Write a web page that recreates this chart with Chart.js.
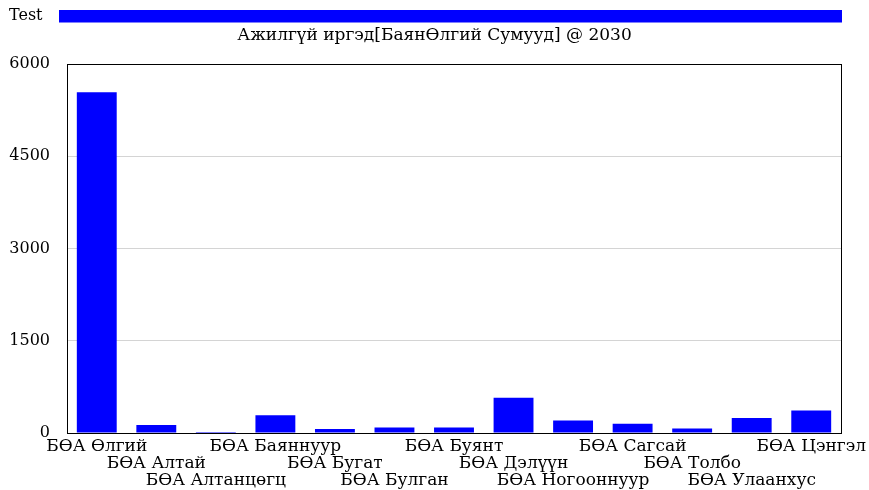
<!DOCTYPE html>
<html>
<head>
<meta charset="utf-8">
<script src="https://cdn.jsdelivr.net/npm/chart.js@4/dist/chart.umd.min.js"></script>
<style>
  html, body { margin: 0; padding: 0; background: #ffffff; }
  #wrap { width: 869px; height: 490px; position: relative; }
</style>
</head>
<body>
<div id="wrap"><canvas id="c" width="869" height="490"></canvas></div>
<script>
// Unemployed citizens by sum (Bayan-Ölgii aimag), year 2030
const seriesName = 'Test';
const chartTitle = 'Ажилгүй иргэд[БаянӨлгий Сумууд] @ 2030';
const categories = [
  'БӨА Өлгий', 'БӨА Алтай', 'БӨА Алтанцөгц', 'БӨА Баяннуур', 'БӨА Бугат',
  'БӨА Булган', 'БӨА Буянт', 'БӨА Дэлүүн', 'БӨА Ногооннуур', 'БӨА Сагсай',
  'БӨА Толбо', 'БӨА Улаанхус', 'БӨА Цэнгэл'
];
const unemployed = [5540, 130, 15, 290, 65, 90, 90, 575, 205, 150, 75, 245, 365];
const yTicks = [0, 1500, 3000, 4500, 6000];

const FONT = 'DejaVu Serif';
const BLUE = '#0000ff';

// Series key: name on the left, long colour strip to the right edge of the plot
const seriesKey = {
  id: 'seriesKey',
  afterDraw(chart) {
    const ctx = chart.ctx;
    const ds = chart.data.datasets[0];
    ctx.save();
    ctx.font = '16px "' + FONT + '"';
    ctx.fillStyle = '#000000';
    ctx.textBaseline = 'middle';
    ctx.textAlign = 'left';
    ctx.fillText(ds.label, 9, 16);
    ctx.fillStyle = ds.backgroundColor;
    ctx.fillRect(59, 10, chart.chartArea.right + 1 - 59, 12.5);
    ctx.restore();
  }
};

// Black frame around the plotting area
const plotFrame = {
  id: 'plotFrame',
  afterDatasetsDraw(chart) {
    const a = chart.chartArea;
    const ctx = chart.ctx;
    ctx.save();
    ctx.strokeStyle = '#000000';
    ctx.lineWidth = 1;
    ctx.strokeRect(Math.round(a.left) + 0.5, Math.round(a.top) + 0.5,
                   Math.round(a.right - a.left), Math.round(a.bottom - a.top));
    ctx.restore();
  }
};

new Chart(document.getElementById('c'), {
  type: 'bar',
  data: {
    labels: categories,
    datasets: [{
      label: seriesName,
      data: unemployed,
      backgroundColor: BLUE,
      borderWidth: 0,
      barPercentage: 0.67,
      categoryPercentage: 1.0
    }]
  },
  options: {
    responsive: false,
    animation: false,
    devicePixelRatio: 1,
    layout: { padding: { top: 25, right: 0, left: 0, bottom: 0 } },
    plugins: {
      legend: { display: false },
      tooltip: { enabled: false },
      title: {
        display: true,
        text: chartTitle,
        color: '#000000',
        font: { family: FONT, size: 17, weight: 'normal', lineHeight: 1.2 },
        padding: { top: 0, bottom: 18.6 }
      }
    },
    scales: {
      x: {
        grid: { display: false, drawTicks: false },
        border: { display: false },
        ticks: {
          autoSkip: false,
          maxRotation: 0,
          minRotation: 0,
          padding: 5,
          color: '#000000',
          font: { family: FONT, size: 17, lineHeight: 1.0 },
          // stagger the names over three rows so they do not collide
          callback: function (value, index) {
            const row = index % 3;
            const lines = [];
            for (let i = 0; i < row; i++) lines.push('');
            lines.push(categories[index]);
            return lines;
          }
        },
        afterFit(scale) {
          scale.height = 57;
          scale.paddingLeft = 0;
          scale.paddingRight = 28;
        }
      },
      y: {
        min: 0,
        max: 6000,
        afterBuildTicks(scale) { scale.ticks = yTicks.map(v => ({ value: v })); },
        grid: {
          color: function (ctx) {
            const v = ctx.tick ? ctx.tick.value : null;
            return (v === 0 || v === 6000) ? 'rgba(0,0,0,0)' : '#d4d4d4';
          },
          drawTicks: false
        },
        border: { display: false },
        ticks: {
          padding: 17,
          color: '#000000',
          font: { family: FONT, size: 16 },
          callback: function (value) { return String(value); }
        },
        afterFit(scale) { scale.width = 67; }
      }
    }
  },
  plugins: [seriesKey, plotFrame]
});
</script>
</body>
</html>
